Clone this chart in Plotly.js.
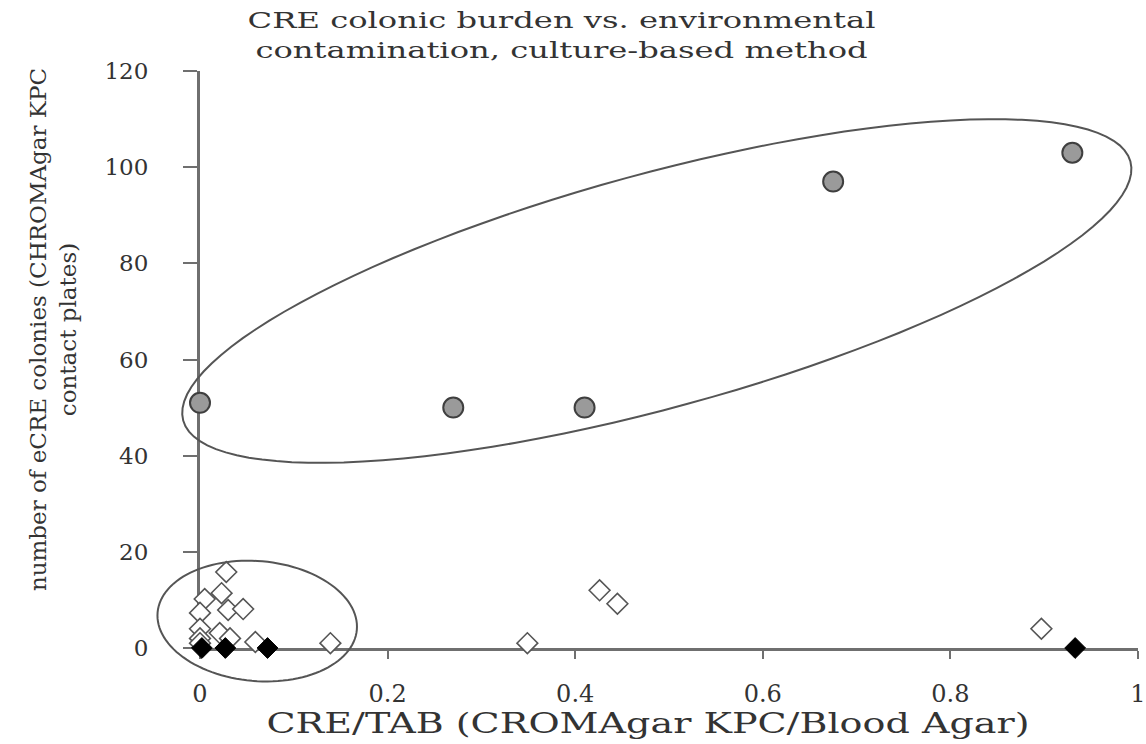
<!DOCTYPE html>
<html>
<head>
<meta charset="utf-8">
<script src="https://cdn.plot.ly/plotly-3.0.1.min.js"></script>
<style>
  html, body { margin: 0; padding: 0; background: #fff; }
  #chart { width: 1146px; height: 744px; }
  /* the reference image is stretched horizontally; widen the text the same way */
  #chart .gtitle, #chart .xtitle {
    transform-box: fill-box;
    transform-origin: center;
  }
  #chart .gtitle { transform: scaleX(1.4); }
  #chart .xtitle { transform: scaleX(1.41); translate: -21px 0; }
  #chart .ytitle { translate: -14px -30px; }
</style>
</head>
<body>
<div id="chart"></div>
<script>
// ---- data ----
const highBurdenX = [0, 0.27, 0.41, 0.675, 0.93];
const highBurdenY = [51, 50, 50, 97, 103];

const lowBurdenX = [0.028, 0.023, 0.005, 0.03, 0.046, 0, 0, 0.021, 0.032, 0.059, 0.139, 0.349, 0.426, 0.445, 0.897, 0, 0];
const lowBurdenY = [15.8, 11.4, 10.2, 7.9, 8.1, 7.3, 4, 3.1, 2, 1.25, 1, 1, 12, 9.2, 4, 2, 1];

const zeroX = [0.002, 0.027, 0.072, 0.933];
const zeroY = [0, 0, 0, 0];

const xTickVals = [0, 0.2, 0.4, 0.6, 0.8, 1];
const xTickText = ["0", "0.2", "0.4", "0.6", "0.8", "1"];
const yTickVals = [0, 20, 40, 60, 80, 100, 120];
const yTickText = ["0", "20", "40", "60", "80", "100", "120"];

// ---- layout geometry ----
const W = 1146, H = 744;
const M = { l: 200, r: 8, t: 71, b: 96 };
const plotW = W - M.l - M.r, plotH = H - M.t - M.b;
const xRange = [0, 1], yRange = [0, 120];

// grouping ellipses (centre in data units, semi-axes in pixels, tilt in degrees)
function ellipsePath(cx, cy, aPx, bPx, deg) {
  const th = deg * Math.PI / 180;
  const cxp = (cx - xRange[0]) / (xRange[1] - xRange[0]);
  const cyp = (cy - yRange[0]) / (yRange[1] - yRange[0]);
  let d = "";
  const n = 120;
  for (let i = 0; i <= n; i++) {
    const t = 2 * Math.PI * i / n;
    const dx = aPx * Math.cos(t) * Math.cos(th) - bPx * Math.sin(t) * Math.sin(th);
    const dy = aPx * Math.cos(t) * Math.sin(th) + bPx * Math.sin(t) * Math.cos(th);
    const xp = cxp + dx / plotW;
    const yp = cyp + dy / plotH;
    d += (i === 0 ? "M" : "L") + xp.toFixed(5) + "," + yp.toFixed(5);
  }
  return d + "Z";
}

const FONT = "DejaVu Serif, Liberation Serif, serif";
const AXIS_COL = "#6f6f6f";
const TEXT_COL = "#333333";

const traces = [
  {
    x: lowBurdenX, y: lowBurdenY, type: "scatter", mode: "markers",
    cliponaxis: false, hoverinfo: "skip",
    marker: { symbol: "diamond", size: 16, color: "#ffffff", line: { color: "#555555", width: 1.6 } }
  },
  {
    x: zeroX, y: zeroY, type: "scatter", mode: "markers",
    cliponaxis: false, hoverinfo: "skip",
    marker: { symbol: "diamond", size: 16, color: "#000000", line: { color: "#000000", width: 1 } }
  },
  {
    x: highBurdenX, y: highBurdenY, type: "scatter", mode: "markers",
    cliponaxis: false, hoverinfo: "skip",
    marker: { symbol: "circle", size: 20, color: "#9a9a9a", line: { color: "#3f3f3f", width: 2 } }
  }
];

const layout = {
  width: W, height: H,
  margin: M,
  paper_bgcolor: "#ffffff", plot_bgcolor: "#ffffff",
  showlegend: false,
  font: { family: FONT, color: TEXT_COL, size: 20 },
  title: {
    text: "CRE colonic burden vs. environmental<br>contamination, culture-based method",
    font: { family: FONT, size: 23, color: TEXT_COL },
    x: 0.49, xref: "container", xanchor: "center",
    y: 0.962, yref: "container", yanchor: "top"
  },
  xaxis: {
    range: xRange, showgrid: false, zeroline: false,
    showline: true, linecolor: AXIS_COL, linewidth: 3, layer: "below traces",
    ticks: "outside", ticklen: 8, tickwidth: 2, tickcolor: AXIS_COL,
    tickvals: xTickVals, ticktext: xTickText,
    ticklabelstandoff: 14,
    tickfont: { family: FONT, size: 24, color: TEXT_COL },
    title: { text: "CRE/TAB (CROMAgar KPC/Blood Agar)", font: { family: FONT, size: 27, color: TEXT_COL }, standoff: 8 }
  },
  yaxis: {
    range: yRange, showgrid: false, zeroline: false,
    showline: true, linecolor: AXIS_COL, linewidth: 3, layer: "below traces",
    ticks: "outside", ticklen: 14, tickwidth: 2, tickcolor: AXIS_COL,
    tickvals: yTickVals, ticktext: yTickText,
    ticklabelstandoff: 30,
    tickfont: { family: FONT, size: 23, color: TEXT_COL },
    title: { text: "number of eCRE colonies (CHROMAgar KPC<br>contact plates)", font: { family: FONT, size: 23, color: TEXT_COL }, standoff: 8 }
  },
  shapes: [
    { type: "path", xref: "paper", yref: "paper", layer: "above",
      path: ellipsePath(0.487, 74.25, 491, 117, 15.3),
      line: { color: "#555555", width: 2 }, fillcolor: "rgba(0,0,0,0)" },
    { type: "path", xref: "paper", yref: "paper", layer: "above",
      path: ellipsePath(0.061, 5.6, 100, 60, -5),
      line: { color: "#555555", width: 2 }, fillcolor: "rgba(0,0,0,0)" }
  ]
};

Plotly.newPlot("chart", traces, layout, { displayModeBar: false, staticPlot: true });
</script>
</body>
</html>
